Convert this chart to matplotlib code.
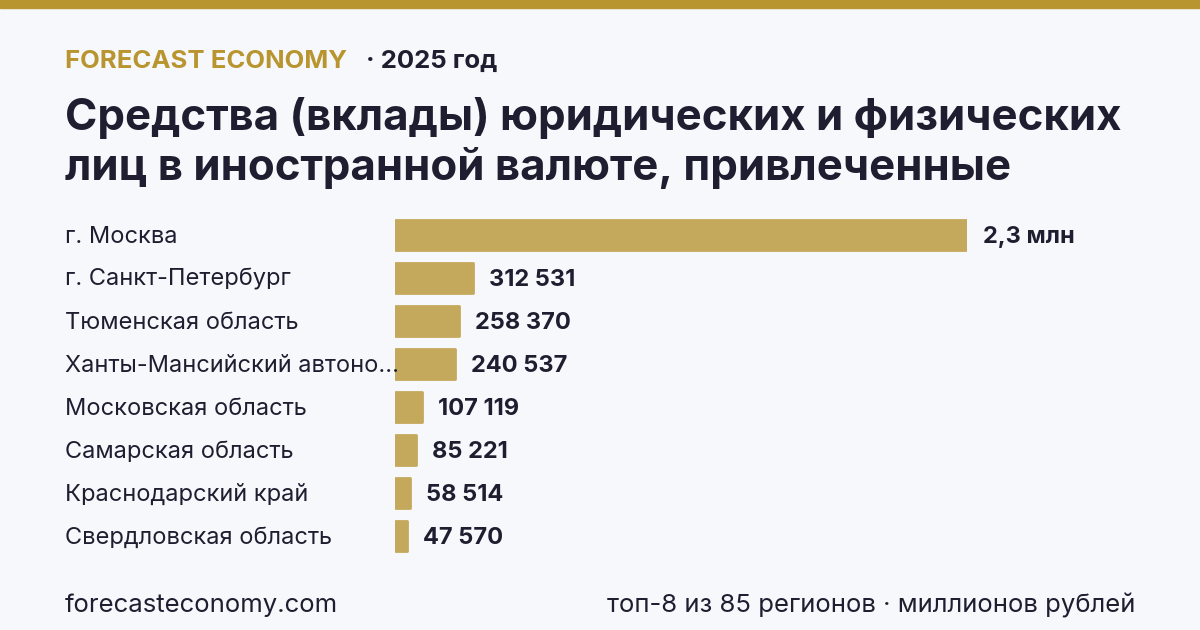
import matplotlib.pyplot as plt
from matplotlib import transforms

regions = ['г. Москва', 'г. Санкт-Петербург', 'Тюменская область',
           'Ханты-Мансийский автоно...', 'Московская область',
           'Самарская область', 'Краснодарский край', 'Свердловская область']
values = [2300000, 312531, 258370, 240537, 107119, 85221, 58514, 47570]
value_labels = ['2,3 млн', '312 531', '258 370', '240 537', '107 119',
                '85 221', '58 514', '47 570']

bg = '#f7f8fc'
gold = '#b8952e'
bar_col = '#c4a85c'
dark = '#1e1e30'

plt.rcParams['font.family'] = ['Inter', 'DejaVu Sans']

fig = plt.figure(figsize=(12, 6.3), dpi=100, facecolor=bg)

# top strip
fig.patches.append(plt.Rectangle((0, 1 - 8 / 630), 1, 8 / 630, transform=fig.transFigure,
                                 color=gold, zorder=0))

fig.text(65 / 1200, 1 - 61 / 630, 'FORECAST ECONOMY', color=gold, fontsize=18.5,
         fontweight='bold', va='center', ha='left')
fig.text(366 / 1200, 1 - 61 / 630, '· 2025 год', color=dark, fontsize=18.5,
         fontweight='bold', va='center', ha='left')
fig.text(65 / 1200, 1 - 118 / 630, 'Средства (вклады) юридических и физических',
         color=dark, fontsize=31.5, fontweight='bold', va='center', ha='left')
fig.text(65 / 1200, 1 - 168 / 630, 'лиц в иностранной валюте, привлеченные',
         color=dark, fontsize=31.5, fontweight='bold', va='center', ha='left')

ax = fig.add_axes([395 / 1200, (630 - 557.5) / 630, 572 / 1200, 344 / 630])
ax.set_facecolor('none')
y = list(range(len(regions)))
ax.barh(y, values, height=0.68, color=bar_col, edgecolor=bar_col,
        linewidth=2, joinstyle='round')
ax.set_xlim(0, 2300000)
ax.set_ylim(len(regions) - 0.5, -0.5)
ax.axis('off')

lab_tr = transforms.blended_transform_factory(fig.transFigure, ax.transData)
for i, (r, v, vl) in enumerate(zip(regions, values, value_labels)):
    ax.text(65 / 1200, i + 0.04, r, transform=lab_tr, fontsize=17, color=dark,
            va='center', ha='left')
    ax.annotate(vl, (v, i + 0.04), xytext=(11.5, 0), textcoords='offset points',
                fontsize=17, fontweight='bold', color=dark, va='center', ha='left')

fig.text(65 / 1200, 1 - 605 / 630, 'forecasteconomy.com', color=dark, fontsize=18.5,
         va='center', ha='left')
fig.text(1135 / 1200, 1 - 605 / 630, 'топ-8 из 85 регионов · миллионов рублей',
         color=dark, fontsize=18.5, va='center', ha='right')

fig.savefig('out.png', dpi=100, facecolor=bg)
